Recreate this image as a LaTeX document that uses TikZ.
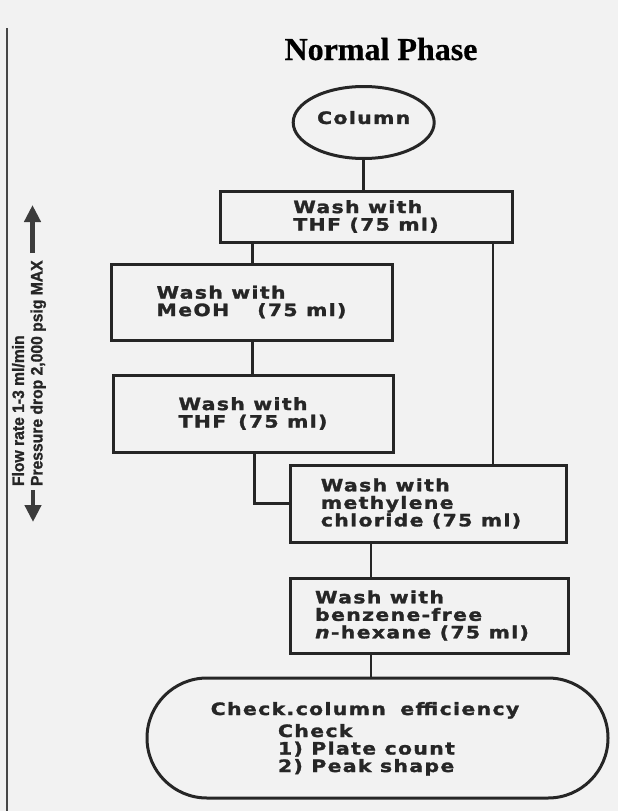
\documentclass[tikz,border=0pt]{standalone}
\usepackage{fontspec}
\setmainfont{DejaVu Sans}
\newfontfamily\titlefont[FakeBold=0.6]{Liberation Serif}
\newfontfamily\boxfont[FakeStretch=1.2,LetterSpace=8,FakeBold=1.6]{DejaVu Sans}
\newfontfamily\sidefont[FakeStretch=0.95,FakeBold=1.2]{Liberation Sans}
\usetikzlibrary{shapes.geometric,shapes.misc,arrows.meta}
\definecolor{ink}{HTML}{262626}
\definecolor{paper}{HTML}{F2F2F2}

\begin{document}
\begin{tikzpicture}[x=1pt,y=-1pt,
  every node/.style={inner sep=0pt, outer sep=0pt},
  boxtext/.style={font=\boxfont\bfseries\fontsize{17}{17.5}\selectfont, text=ink},
  stepbox/.style={boxtext, draw=ink, line width=3pt, rectangle, align=left},
  link/.style={draw=ink, line width=2.8pt},
  flowarrow/.style={draw=ink!90, line width=4.5pt, -{Triangle[width=16pt,length=17pt]}}
]
% page
\fill[paper] (0,0) rectangle (618,811);
\useasboundingbox (0,0) rectangle (618,811);
\draw[ink!85, line width=2.6pt] (7,28) -- (7,811);

% heading
\node[font=\titlefont\bfseries\fontsize{32}{36}\selectfont, text=black, anchor=base] (title) at (381,60) {Normal Phase};

% start
\node[boxtext, ellipse, draw=ink, line width=3pt, minimum width=141pt, minimum height=72pt, text depth=10pt] (col) at (363.7,122.5) {Column};

% washing steps
\node[stepbox, minimum width=292pt, minimum height=51pt] (wash1) at (366,216.5) {Wash with\\THF (75 ml)};
\node[stepbox, minimum width=281pt, minimum height=76pt] (wash2) at (251.5,302) {Wash with\\MeOH\hspace{28pt}(75 ml)};
\node[stepbox, minimum width=280pt, minimum height=77pt] (wash3) at (253,413.5) {Wash with\\THF\hspace{12pt}(75 ml)};
\node[stepbox, minimum width=276pt, minimum height=77pt] (wash4) at (428,503.5) {Wash with\\methylene\\chloride (75 ml)\hspace*{14pt}};
\node[stepbox, minimum width=278pt, minimum height=75pt] (wash5) at (429,615.5) {Wash with\\benzene-free\\\textit{n}-hexane (75 ml)\hspace*{14pt}};

% final check
\node[rounded rectangle, draw=ink, line width=3pt, minimum width=461pt, minimum height=120pt] (check) at (377.5,738) {};
\node[boxtext, anchor=base] (checkhead) at (365,715) {Check.column\hspace{6pt} efficiency};
\node[boxtext, align=left, anchor=base west] (checklist) at (278,772) {Check\\1) Plate count\\2) Peak shape};

% connectors
\coordinate (lx) at (252.5,0);
\coordinate (lx2) at (254.5,0);
\coordinate (rx) at (493,0);
\coordinate (mx) at (371,0);
\draw[link] (col.south) -- (col.south |- wash1.north);
\draw[link] (wash1.south -| lx) -- (wash2.north -| lx);
\draw[link] (wash2.south -| lx) -- (wash3.north -| lx);
\draw[link] (wash3.south -| lx2) |- (wash4.west);
\draw[link] (wash1.south -| rx) -- (wash4.north -| rx);
\draw[link] (wash4.south -| mx) -- (wash5.north -| mx);
\draw[link] (wash5.south -| mx) -- (check.north -| mx);

% flow direction and limits
\coordinate (upbase) at (32.5,253);
\coordinate (uptip) at (32.5,205);
\coordinate (dnbase) at (33,490);
\coordinate (dntip) at (33,522);
\draw[flowarrow] (upbase) -- (uptip);
\draw[flowarrow] (dnbase) -- (dntip);
\node[rotate=90, anchor=north west, align=left, font=\sidefont\bfseries\fontsize{16.5}{18.5}\selectfont, text=ink] (flowtxt) at (12,486) {Flow rate 1-3 ml/min\\Pressure drop 2,000 psig MAX};
\end{tikzpicture}
\end{document}
